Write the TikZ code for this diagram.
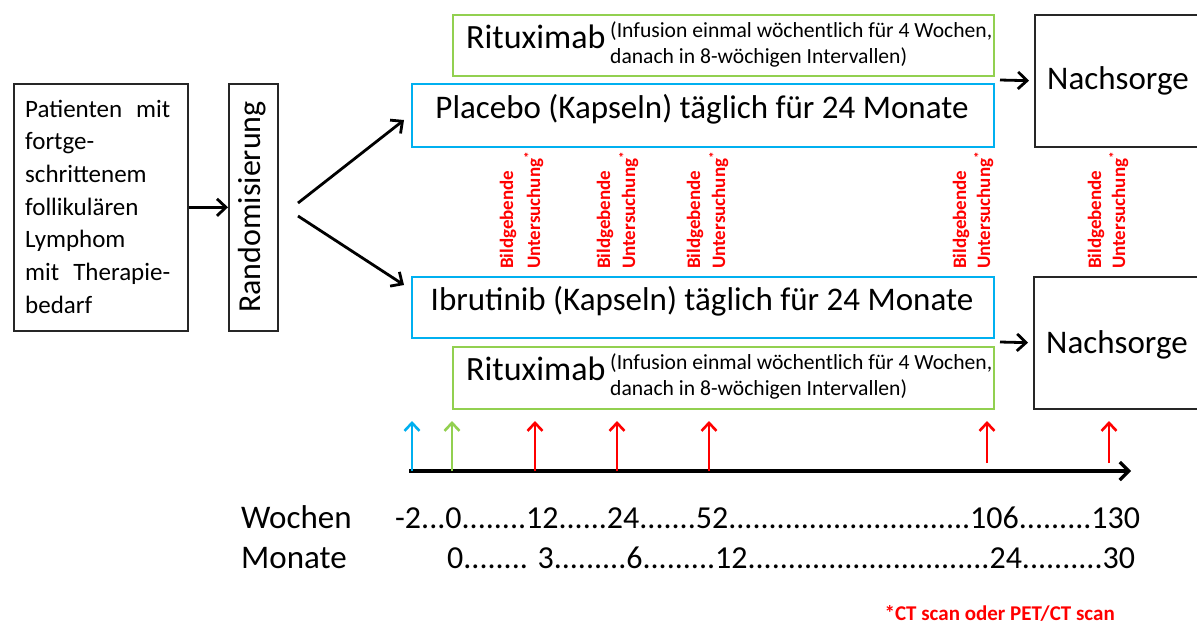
\documentclass[tikz,border=0pt]{standalone}
\usepackage{fontspec}
\setmainfont{Carlito}
\usetikzlibrary{arrows.meta}
\definecolor{myblue}{RGB}{0,176,240}
\definecolor{mygreen}{RGB}{146,208,80}
\definecolor{myred}{RGB}{255,0,0}
\tikzset{
  box/.style={rectangle, inner sep=0pt, anchor=north west},
  bluebox/.style={box, draw=myblue, line width=2pt},
  greenbox/.style={box, draw=mygreen, line width=1.8pt},
  blackbox/.style={box, draw=black!85, line width=1.6pt},
  txt/.style={inner sep=0pt, anchor=base west},
  ctxt/.style={inner sep=0pt, anchor=base},
  big/.style={font=\fontsize{32}{38}\selectfont},
  bigger/.style={font=\fontsize{33}{39}\selectfont},
  ritfont/.style={font=\fontsize{34}{40}\selectfont},
  smallfont/.style={font=\fontsize{21.6}{26}\selectfont},
  redtxt/.style={inner sep=0pt, anchor=base west, rotate=90, text=myred, font=\bfseries\fontsize{19}{22}\selectfont},
  flow/.style={-{Straight Barb[length=9pt,width=17pt]}, line width=2.8pt},
  uparr/.style={-{Straight Barb[length=8pt,width=15pt]}, line width=2.6pt},
  axisline/.style={-{Straight Barb[length=9pt,width=18pt]}, line width=3.2pt}
}
\begin{document}
\begin{tikzpicture}[x=1pt,y=-1pt]
\clip (0,0) rectangle (1197,625);
\fill[white] (0,0) rectangle (1197,625);

% boxes
\node[blackbox, draw, minimum width=174, minimum height=247] (pat) at (13,83) {};
\node[blackbox, draw, minimum width=49, minimum height=247] (rand) at (228,83) {};
\node[greenbox, minimum width=541, minimum height=61] (rittop) at (452,14) {};
\node[bluebox, minimum width=582, minimum height=63] (plac) at (411,83) {};
\node[bluebox, minimum width=582, minimum height=61] (ibru) at (411,276) {};
\node[greenbox, minimum width=541, minimum height=62] (ritbot) at (452,346) {};
\node[blackbox, draw, minimum width=200, minimum height=132] (nachtop) at (1034,14) {};
\node[blackbox, draw, minimum width=200, minimum height=132] (nachbot) at (1033,276) {};

% texts in boxes
\node[txt] (pattext) at (25,117) {\parbox[t]{150pt}{\fontsize{25}{32.7}\selectfont
  \makebox[145pt][s]{Patienten mit}\\fortge-\\schrittenem\\follikulären\\Lymphom\\\makebox[145pt][s]{mit Therapie-}\\bedarf}};
\node[rotate=90, inner sep=0pt, big] (randtext) at (252.5,207) {Randomisierung};

\node[txt, ritfont] (rit1) at (466,48) {Rituximab};
\node[txt, smallfont] (rit1a) at (610,37) {(Infusion einmal wöchentlich für 4 Wochen,};
\node[txt, smallfont] (rit1b) at (610,63) {danach in 8-wöchigen Intervallen)};
\node[ctxt, bigger] (plactext) at (702,118) {Placebo (Kapseln) täglich für 24 Monate};
\node[ctxt, bigger] (ibrutext) at (702,310) {Ibrutinib (Kapseln) täglich für 24 Monate};
\node[txt, ritfont] (rit2) at (466,380) {Rituximab};
\node[txt, smallfont] (rit2a) at (610,369) {(Infusion einmal wöchentlich für 4 Wochen,};
\node[txt, smallfont] (rit2b) at (610,395) {danach in 8-wöchigen Intervallen)};
\node[txt, bigger] (nach1) at (1047,89) {Nachsorge};
\node[txt, bigger] (nach2) at (1046,353) {Nachsorge};

% red imaging labels
\foreach \bx/\ux/\i in {513/540/1, 610/635/2, 700/725/3, 966/990/4, 1101/1125/5}{
  \node[redtxt] (bild\i) at (\bx,269) {Bildgebende};
  \node[redtxt] (unt\i) at (\ux,269) {Untersuchung\textsuperscript{*}};
}

% connectors
\coordinate (r1) at (298,203);
\coordinate (p1) at (404,120);
\coordinate (r2) at (298,216);
\coordinate (p2) at (404,285);
\draw[flow] (pat.east) -- (rand.west);
\draw[flow] (r1) -- (p1);
\draw[flow] (r2) -- (p2);
\coordinate (n1s) at (1000,80);
\coordinate (n2s) at (1000,342);
\draw[flow, shorten >=5pt] (n1s) -- (nachtop.west);
\draw[flow, shorten >=5pt] (n2s) -- (nachbot.west);

% timeline
\coordinate (ax0) at (409,471);
\coordinate (ax1) at (1131,471);
\draw[axisline] (ax0) -- (ax1);
\coordinate (tb0) at (412,471); \coordinate (tb1) at (412,421);
\coordinate (tg0) at (452,471); \coordinate (tg1) at (452,421);
\draw[uparr, draw=myblue] (tb0) -- (tb1);
\draw[uparr, draw=mygreen] (tg0) -- (tg1);
\foreach \x/\y/\i in {535/471/1, 617/471/2, 709/471/3, 987/463/4, 1109/463/5}{
  \coordinate (tr\i a) at (\x,\y);
  \coordinate (tr\i b) at (\x,421);
  \draw[uparr, draw=myred] (tr\i a) -- (tr\i b);
}

% scale labels
\node[txt, bigger] (woch) at (241,528) {Wochen};
\node[txt, big] (wochnum) at (395,528) {-2...0........12......24.......52..............................106.........130};
\node[txt, bigger] (mon) at (241,568) {Monate};
\node[txt, big] (monnum) at (447,568) {0........ 3.........6.........12..............................24..........30};

\node[inner sep=0pt, anchor=base east, text=myred, font=\bfseries\fontsize{21}{25}\selectfont] (foot) at (1115,620) {*CT scan oder PET/CT scan};
\end{tikzpicture}
\end{document}
